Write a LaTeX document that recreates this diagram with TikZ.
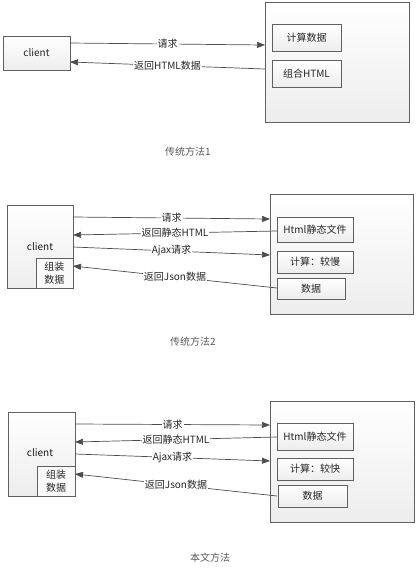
\documentclass[tikz,border=0pt]{standalone}
\usepackage{fontspec}
\setmainfont{Noto Sans CJK SC}
\usetikzlibrary{arrows.meta,shadows}
\tikzset{
  box/.style={draw=gray!75!black, line width=0.6pt, rectangle, inner sep=0pt,
    top color=white, bottom color=gray!14,
    drop shadow={shadow xshift=1.2pt, shadow yshift=-1.2pt, fill=black, opacity=0.3},
    font=\fontsize{10}{12}\selectfont, text=black!85},
  subbox/.style={draw=gray!75!black, line width=0.6pt, rectangle, inner sep=0pt,
    fill=white!96!gray, font=\fontsize{10}{13}\selectfont, align=center, text=black!85},
  conn/.style={draw=black!70, line width=0.7pt, -{Triangle[length=8pt,width=6pt]}},
  lbl/.style={fill=white, inner sep=1pt, font=\fontsize{10}{12}\selectfont, text=black!85},
  captxt/.style={font=\fontsize{10}{12}\selectfont, text=black!65},
  plain/.style={font=\fontsize{10}{12}\selectfont, text=black!90, inner sep=0pt}
}
\begin{document}
\begin{tikzpicture}[x=1pt,y=-1pt]
\useasboundingbox (0,0) rectangle (418,574);

% ---------- Section 1 ----------
\node[box, minimum width=144pt, minimum height=120pt] (big1) at (337,62) {};
\node[box, minimum width=67pt, minimum height=34pt] (client1) at (36.5,53) {client};
\node[box, minimum width=69pt, minimum height=27pt] (calc1) at (306.5,37.5) {计算数据};
\node[box, minimum width=69pt, minimum height=27pt] (html1) at (306.5,73.5) {组合HTML};
\coordinate (r1a) at (70,43);
\coordinate (r1b) at (265,45);
\coordinate (t1a) at (265,69);
\coordinate (t1b) at (70,62);
\draw[conn] (r1a) -- node[lbl] (l1a) {请求} (r1b);
\draw[conn] (t1a) -- node[lbl] (l1b) {返回HTML数据} (t1b);
\node[captxt] (cap1) at (188,152) {传统方法1};

% ---------- Section 2 ----------
\node[box, minimum width=143pt, minimum height=120pt] (big2) at (341.5,254) {};
\node[box, minimum width=66pt, minimum height=83pt] (client2) at (40,246.5) {};
\node[plain] (clientlbl2) at (40,247) {client};
\node[subbox, minimum width=37pt, minimum height=30pt] (asm2) at (54.5,273) {组装\\数据};
\node[box, minimum width=76pt, minimum height=25pt] (html2) at (315,229.5) {Html静态文件};
\node[box, minimum width=76pt, minimum height=22pt] (calc2) at (315,262) {计算：较慢};
\node[box, minimum width=68pt, minimum height=21pt] (data2) at (311,288.5) {数据};
\coordinate (r2a) at (73,217);
\coordinate (r2b) at (270,219);
\coordinate (s2a) at (277,231);
\coordinate (s2b) at (73,235);
\coordinate (j2a) at (73,247);
\coordinate (j2b) at (270,255);
\coordinate (d2a) at (277,288);
\coordinate (d2b) at (73,266);
\draw[conn] (r2a) -- node[lbl] (l2a) {请求} (r2b);
\draw[conn] (s2a) -- node[lbl] (l2b) {返回静态HTML} (s2b);
\draw[conn] (j2a) -- node[lbl] (l2c) {Ajax请求} (j2b);
\draw[conn] (d2a) -- node[lbl] (l2d) {返回Json数据} (d2b);
\node[captxt] (cap2) at (193,342) {传统方法2};

% ---------- Section 3 ----------
\node[box, minimum width=144pt, minimum height=121pt] (big3) at (342,461.5) {};
\node[box, minimum width=67pt, minimum height=84pt] (client3) at (41.5,454) {};
\node[plain] (clientlbl3) at (40,453) {client};
\node[subbox, minimum width=38pt, minimum height=30pt] (asm3) at (56,481) {组装\\数据};
\node[box, minimum width=76pt, minimum height=27pt] (html3) at (315,436.5) {Html静态文件};
\node[box, minimum width=76pt, minimum height=22pt] (calc3) at (315,469) {计算：较快};
\node[box, minimum width=69pt, minimum height=22pt] (data3) at (312.5,496) {数据};
\coordinate (r3a) at (75,424);
\coordinate (r3b) at (270,425);
\coordinate (s3a) at (277,437);
\coordinate (s3b) at (75,442);
\coordinate (j3a) at (75,454);
\coordinate (j3b) at (270,461);
\coordinate (d3a) at (277,496);
\coordinate (d3b) at (75,474);
\draw[conn] (r3a) -- node[lbl] (l3a) {请求} (r3b);
\draw[conn] (s3a) -- node[lbl] (l3b) {返回静态HTML} (s3b);
\draw[conn] (j3a) -- node[lbl] (l3c) {Ajax请求} (j3b);
\draw[conn] (d3a) -- node[lbl] (l3d) {返回Json数据} (d3b);
\node[captxt] (cap3) at (210,558) {本文方法};
\end{tikzpicture}
\end{document}
